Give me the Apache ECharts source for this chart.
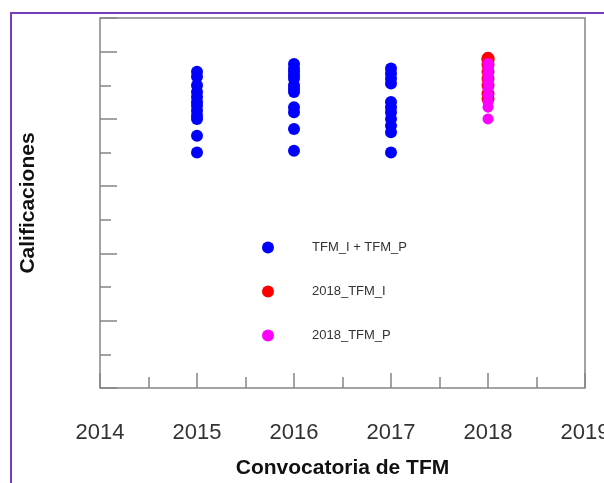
<!DOCTYPE html>
<html>
<head>
<meta charset="utf-8">
<script src="https://cdn.jsdelivr.net/npm/echarts@6/dist/echarts.min.js"></script>
<style>
  html,body{margin:0;padding:0;background:#fff;}
  #frame{position:absolute;left:10px;top:12px;width:700px;height:600px;border-left:2px solid #7a3db8;border-top:2px solid #7a3db8;}
  #chart{position:absolute;left:0;top:0;width:604px;height:483px;}
</style>
</head>
<body>
<div id="frame"></div>
<div id="chart"></div>
<script>
// ==================== DATA ====================
const xRange=[2014,2019];
const yRange=[0,11];

// grades per call
const y2015=[7.0,7.5,8.0,8.1,8.25,8.4,8.5,8.65,8.8,9.0,9.25,9.4];
const y2016=[7.05,7.7,8.2,8.35,8.8,8.9,9.0,9.2,9.3,9.4,9.5,9.63];
const y2017=[7.0,7.6,7.8,8.0,8.2,8.35,8.5,9.05,9.2,9.35,9.5];
const y2018I=[9.8,9.75,9.6,9.4,9.2,9.0,8.75,8.6];
const y2018P=[9.65,9.5,9.35,9.2,9.05,8.9,8.7,8.5,8.35,8.0];

const seriesNames=['TFM_I + TFM_P','2018_TFM_I','2018_TFM_P'];

const blueData=[]
  .concat(y2015.map(v=>[2015,v]))
  .concat(y2016.map(v=>[2016,v]))
  .concat(y2017.map(v=>[2017,v]));
const redData=y2018I.map(v=>[2018,v]);
const pinkData=y2018P.map(v=>[2018,v]);

// ==================== CHART ====================
const font='"Liberation Sans", Arial, sans-serif';
const axC='#858585';
const chart=echarts.init(document.getElementById('chart'));

chart.setOption({
  animation:false,
  grid:{left:100,right:19,top:18,bottom:95,containLabel:false,outerBoundsMode:'none',
    show:true,borderColor:axC,borderWidth:1.5,backgroundColor:'transparent'},
  legend:{
    orient:'vertical',left:257,top:236,itemWidth:78,itemHeight:12,itemGap:31,
    icon:'circle',
    data:seriesNames,
    textStyle:{fontFamily:font,fontSize:13,color:'#333'}
  },
  xAxis:{
    type:'value',min:xRange[0],max:xRange[1],interval:1,
    name:'Convocatoria de TFM',nameLocation:'middle',nameGap:70,
    nameTextStyle:{fontFamily:font,fontSize:21,fontWeight:'bold',color:'#111'},
    axisLine:{show:false},
    axisTick:{show:true,inside:true,length:15,lineStyle:{color:axC,width:1.5}},
    minorTick:{show:true,splitNumber:2,length:11,lineStyle:{color:axC,width:1.5}},
    axisLabel:{fontFamily:font,fontSize:22,color:'#333',margin:34,showMinLabel:true,showMaxLabel:true,
      formatter:v=>String(v)},
    splitLine:{show:false}
  },
  yAxis:[{
    type:'value',min:yRange[0],max:yRange[1],interval:2,position:'left',
    name:'Calificaciones',nameLocation:'middle',nameGap:61,
    nameTextStyle:{fontFamily:font,fontSize:21,fontWeight:'bold',color:'#111'},
    axisLine:{show:false},
    axisTick:{show:true,inside:true,length:17,lineStyle:{color:axC,width:1.5}},
    axisLabel:{show:false},
    splitLine:{show:false}
  },{
    type:'value',min:yRange[0],max:yRange[1],interval:1,position:'left',offset:0,
    axisLine:{show:false},
    axisTick:{show:true,inside:true,length:11,lineStyle:{color:axC,width:1.5}},
    axisLabel:{show:false},
    splitLine:{show:false}
  }],
  series:[
    {name:seriesNames[0],type:'scatter',data:blueData,symbolSize:12,itemStyle:{color:'#0000ff',opacity:1}},
    {name:seriesNames[1],type:'scatter',data:redData,symbolSize:13,itemStyle:{color:'#ff0000',opacity:1}},
    {name:seriesNames[2],type:'scatter',data:pinkData,symbolSize:11,itemStyle:{color:'#ff00ff',opacity:1}}
  ]
});
</script>
</body>
</html>
